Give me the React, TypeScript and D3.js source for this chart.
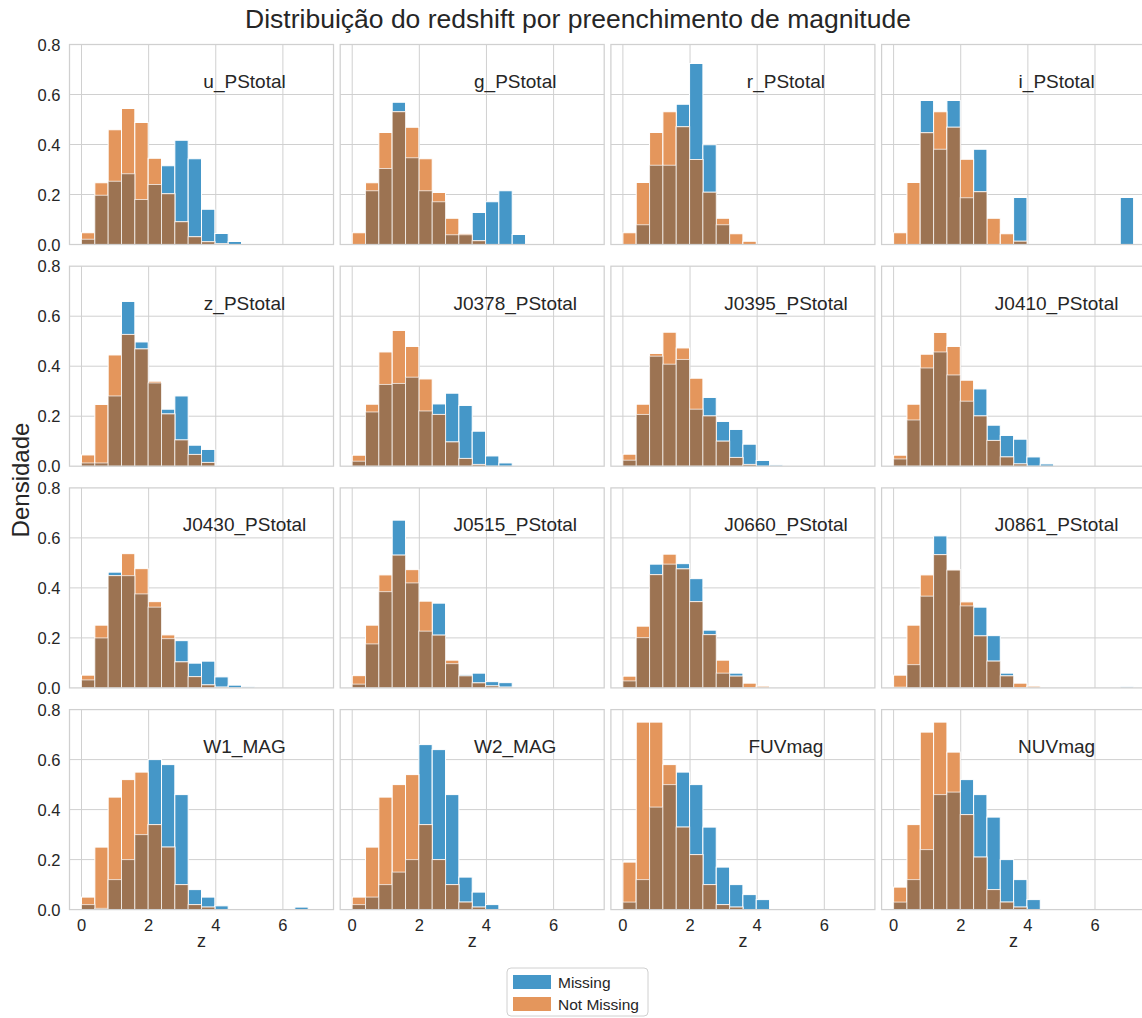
import React from 'react';
import * as d3 from 'd3';

// bin layout of the histograms (18 bins from z=0 to z=7.15)
const binCount = 18;
const zMax = 7.15;

const panelNames = [
  'u_PStotal', 'g_PStotal', 'r_PStotal', 'i_PStotal',
  'z_PStotal', 'J0378_PStotal', 'J0395_PStotal', 'J0410_PStotal',
  'J0430_PStotal', 'J0515_PStotal', 'J0660_PStotal', 'J0861_PStotal',
  'W1_MAG', 'W2_MAG', 'FUVmag', 'NUVmag',
];

// density per bin, "Missing" (blue) and "Not Missing" (orange)
const uMissing = [0.021, 0.197, 0.253, 0.283, 0.18, 0.24, 0.315, 0.417, 0.343, 0.141, 0.044, 0.012, 0, 0, 0, 0, 0, 0];
const uNotMissing = [0.047, 0.247, 0.459, 0.544, 0.488, 0.345, 0.203, 0.091, 0.031, 0.011, 0.003, 0, 0, 0, 0, 0, 0, 0];
const gMissing = [0, 0.215, 0.304, 0.569, 0.347, 0.215, 0.171, 0.039, 0.039, 0.128, 0.171, 0.215, 0.04, 0, 0, 0, 0, 0];
const gNotMissing = [0.047, 0.247, 0.448, 0.531, 0.469, 0.343, 0.208, 0.105, 0.043, 0.015, 0, 0, 0, 0, 0, 0, 0, 0];
const rMissing = [0, 0.079, 0.317, 0.317, 0.561, 0.724, 0.399, 0.079, 0, 0, 0, 0, 0, 0, 0, 0, 0, 0];
const rNotMissing = [0.047, 0.248, 0.448, 0.531, 0.471, 0.34, 0.209, 0.105, 0.043, 0.013, 0, 0, 0, 0, 0, 0, 0, 0];
const iMissing = [0, 0, 0.576, 0.381, 0.576, 0.187, 0.381, 0, 0, 0.188, 0, 0, 0, 0, 0, 0, 0, 0.188];
const iNotMissing = [0.047, 0.248, 0.447, 0.531, 0.469, 0.341, 0.211, 0.105, 0.043, 0.013, 0, 0, 0, 0, 0, 0, 0, 0];
const zMissing = [0.013, 0.013, 0.281, 0.659, 0.497, 0.333, 0.228, 0.281, 0.084, 0.067, 0, 0, 0, 0, 0, 0, 0, 0];
const zNotMissing = [0.045, 0.247, 0.445, 0.527, 0.469, 0.34, 0.209, 0.105, 0.047, 0.015, 0.004, 0, 0, 0, 0, 0, 0, 0];
const j0378Missing = [0.02, 0.217, 0.327, 0.331, 0.356, 0.221, 0.249, 0.292, 0.243, 0.14, 0.041, 0.013, 0, 0, 0, 0, 0, 0];
const j0378NotMissing = [0.044, 0.248, 0.457, 0.543, 0.479, 0.349, 0.207, 0.097, 0.031, 0.007, 0, 0, 0, 0, 0, 0, 0, 0];
const j0395Missing = [0.024, 0.207, 0.44, 0.408, 0.427, 0.228, 0.275, 0.179, 0.147, 0.088, 0.023, 0.005, 0, 0, 0, 0, 0, 0];
const j0395NotMissing = [0.048, 0.248, 0.451, 0.536, 0.473, 0.352, 0.201, 0.1, 0.035, 0.007, 0, 0, 0, 0, 0, 0, 0, 0];
const j0410Missing = [0.029, 0.185, 0.393, 0.457, 0.365, 0.26, 0.309, 0.164, 0.123, 0.108, 0.037, 0.009, 0, 0, 0, 0, 0, 0];
const j0410NotMissing = [0.044, 0.248, 0.448, 0.535, 0.479, 0.344, 0.201, 0.103, 0.037, 0.009, 0, 0, 0, 0, 0, 0, 0, 0];
const j0430Missing = [0.032, 0.2, 0.463, 0.449, 0.376, 0.323, 0.197, 0.189, 0.099, 0.107, 0.044, 0.011, 0.005, 0, 0, 0, 0, 0];
const j0430NotMissing = [0.051, 0.251, 0.449, 0.537, 0.477, 0.345, 0.212, 0.104, 0.045, 0.012, 0.003, 0, 0, 0, 0, 0, 0, 0];
const j0515Missing = [0.015, 0.176, 0.385, 0.671, 0.42, 0.227, 0.339, 0.097, 0.053, 0.059, 0.025, 0.021, 0, 0, 0, 0, 0, 0];
const j0515NotMissing = [0.049, 0.251, 0.452, 0.531, 0.473, 0.347, 0.211, 0.111, 0.048, 0.02, 0.008, 0.003, 0, 0, 0, 0, 0, 0];
const j0660Missing = [0.028, 0.201, 0.495, 0.495, 0.497, 0.437, 0.231, 0.059, 0.059, 0, 0, 0, 0, 0, 0, 0, 0, 0];
const j0660NotMissing = [0.047, 0.247, 0.453, 0.535, 0.476, 0.345, 0.213, 0.111, 0.047, 0.019, 0.007, 0, 0, 0, 0, 0, 0, 0];
const j0861Missing = [0.003, 0.093, 0.367, 0.608, 0.471, 0.328, 0.323, 0.209, 0.059, 0, 0, 0, 0, 0, 0, 0, 0, 0.005];
const j0861NotMissing = [0.051, 0.251, 0.452, 0.533, 0.473, 0.344, 0.208, 0.107, 0.048, 0.019, 0.007, 0, 0, 0, 0, 0, 0, 0];
const w1Missing = [0.02, 0.005, 0.12, 0.2, 0.3, 0.6, 0.58, 0.46, 0.08, 0.05, 0.015, 0, 0, 0, 0, 0, 0.01, 0];
const w1NotMissing = [0.05, 0.25, 0.45, 0.52, 0.55, 0.34, 0.25, 0.1, 0.02, 0.01, 0, 0, 0, 0, 0, 0, 0, 0];
const w2Missing = [0.02, 0.05, 0.1, 0.15, 0.2, 0.66, 0.64, 0.46, 0.13, 0.07, 0.02, 0, 0, 0, 0, 0, 0, 0];
const w2NotMissing = [0.05, 0.25, 0.45, 0.5, 0.54, 0.34, 0.2, 0.1, 0.03, 0.01, 0, 0, 0, 0, 0, 0, 0, 0];
const fuvMissing = [0.03, 0.12, 0.41, 0.5, 0.55, 0.5, 0.33, 0.17, 0.1, 0.06, 0.04, 0, 0, 0, 0, 0, 0, 0];
const fuvNotMissing = [0.19, 0.75, 0.75, 0.58, 0.33, 0.22, 0.1, 0.02, 0.01, 0, 0, 0, 0, 0, 0, 0, 0, 0];
const nuvMissing = [0.03, 0.12, 0.24, 0.46, 0.47, 0.52, 0.46, 0.37, 0.2, 0.12, 0.04, 0, 0, 0, 0, 0, 0, 0];
const nuvNotMissing = [0.09, 0.34, 0.71, 0.75, 0.63, 0.38, 0.21, 0.08, 0.03, 0.01, 0, 0, 0, 0, 0, 0, 0, 0];

const missingSeries = [
  uMissing, gMissing, rMissing, iMissing, zMissing, j0378Missing, j0395Missing, j0410Missing,
  j0430Missing, j0515Missing, j0660Missing, j0861Missing, w1Missing, w2Missing, fuvMissing, nuvMissing,
];
const notMissingSeries = [
  uNotMissing, gNotMissing, rNotMissing, iNotMissing, zNotMissing, j0378NotMissing, j0395NotMissing, j0410NotMissing,
  j0430NotMissing, j0515NotMissing, j0660NotMissing, j0861NotMissing, w1NotMissing, w2NotMissing, fuvNotMissing, nuvNotMissing,
];

const xTicks = [0, 2, 4, 6];
const yTicks = [0, 0.2, 0.4, 0.6, 0.8];

const BLUE = '#4597c8';
const ORANGE = '#e4965c';
const BROWN = '#9c7352';
const GRID = '#d0d0d0';
const TEXT = '#262626';
const FONT = '"Liberation Sans", Arial, sans-serif';

const panelW = 264;
const panelH = 200;
const colStep = 270.7;
const rowStep = 221.7;
const left0 = 69.5;
const top0 = 44.5;

const binEdges = d3.range(binCount + 1).map(i => (i * zMax) / binCount);
const pad = zMax * 0.05;

const x = d3.scaleLinear().domain([-pad, zMax + pad]).range([0, panelW]);
const y = d3.scaleLinear().domain([0, 0.8]).range([panelH, 0]);

const Panel = ({ idx }: { idx: number }) => {
  const col = idx % 4;
  const row = Math.floor(idx / 4);
  const tx = left0 + col * colStep;
  const ty = top0 + row * rowStep;
  const miss = missingSeries[idx];
  const notMiss = notMissingSeries[idx];

  return (
    <g transform={`translate(${tx},${ty})`}>
      {xTicks.map(t => (
        <line key={'gx' + t} x1={x(t)} x2={x(t)} y1={0} y2={panelH} stroke={GRID} strokeWidth={1} />
      ))}
      {yTicks.slice(1, -1).map(t => (
        <line key={'gy' + t} x1={0} x2={panelW} y1={y(t)} y2={y(t)} stroke={GRID} strokeWidth={1} />
      ))}
      {miss.map((v, i) => v > 0 && (
        <rect key={'m' + i} x={x(binEdges[i])} width={x(binEdges[i + 1]) - x(binEdges[i])}
          y={y(v)} height={y(0) - y(v)} fill={BLUE} stroke="#fff" strokeWidth={1} />
      ))}
      {notMiss.map((v, i) => v > 0 && (
        <rect key={'n' + i} x={x(binEdges[i])} width={x(binEdges[i + 1]) - x(binEdges[i])}
          y={y(v)} height={y(0) - y(v)} fill={ORANGE} stroke="#fff" strokeWidth={1} />
      ))}
      {notMiss.map((v, i) => {
        const lo = Math.min(v, miss[i]);
        if (lo <= 0) return null;
        return (
          <rect key={'o' + i} x={x(binEdges[i])} width={x(binEdges[i + 1]) - x(binEdges[i])}
            y={y(lo)} height={y(0) - y(lo)} fill={BROWN} stroke="rgba(255,255,255,0.7)" strokeWidth={1} />
        );
      })}
      <rect x={0} y={0} width={panelW} height={panelH} fill="none" stroke={GRID} strokeWidth={1.25} />
      <text x={panelW * 0.663} y={37} textAnchor="middle" dominantBaseline="central"
        fontSize={19} fill={TEXT}>{panelNames[idx]}</text>
      {col === 0 && yTicks.map(t => (
        <text key={'ty' + t} x={-9} y={y(t)} textAnchor="end" dominantBaseline="central"
          fontSize={16.5} fill={TEXT}>{d3.format('.1f')(t)}</text>
      ))}
      {row === 3 && xTicks.map(t => (
        <text key={'tx' + t} x={x(t)} y={panelH + 21} textAnchor="middle"
          fontSize={16.5} fill={TEXT}>{t}</text>
      ))}
      {row === 3 && (
        <text x={panelW / 2} y={panelH + 37} textAnchor="middle" fontSize={18} fill={TEXT}>z</text>
      )}
    </g>
  );
};

const App = () => {
  return (
    <div style={{ position: 'absolute', left: 0, top: 0 }}>
      <svg width={1142} height={1018} style={{ display: 'block', fontFamily: FONT }}>
        <rect width={1142} height={1018} fill="#fff" />
        <text x={578} y={28} textAnchor="middle" fontSize={26.5} fill={TEXT}>
          Distribuição do redshift por preenchimento de magnitude
        </text>
        <text transform="translate(29,480) rotate(-90)" textAnchor="middle" fontSize={24} fill={TEXT}>
          Densidade
        </text>
        {panelNames.map((_, i) => <Panel key={i} idx={i} />)}
        <g transform="translate(507,968)">
          <rect x={0} y={0} width={141} height={48} rx={4} fill="#fff" stroke={GRID} strokeWidth={1} />
          <rect x={6} y={7} width={38} height={14} fill={BLUE} />
          <text x={51} y={19.5} fontSize={15.5} fill={TEXT}>Missing</text>
          <rect x={6} y={29} width={38} height={14} fill={ORANGE} />
          <text x={51} y={41.5} fontSize={15.5} fill={TEXT}>Not Missing</text>
        </g>
      </svg>
    </div>
  );
};

export default App;
